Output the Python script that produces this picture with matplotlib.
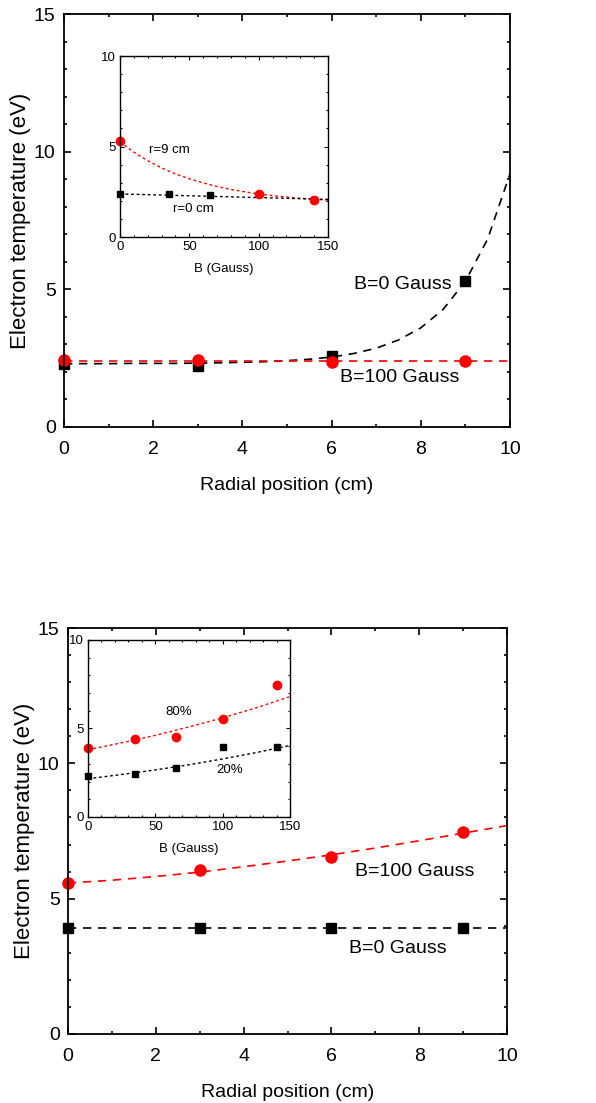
import numpy as np
import matplotlib.pyplot as plt
from matplotlib.ticker import MultipleLocator

plt.rcParams['font.family'] = ['Liberation Sans', 'DejaVu Sans']

# ---- top panel: radial profile ----
r_pos = [0, 3, 6, 9]
te_b0_top = [2.30, 2.21, 2.57, 5.30]
te_b100_top = [2.45, 2.42, 2.36, 2.39]
# fitted curves
fit_r_top = [0, 0.5, 1, 1.5, 2, 2.5, 3, 3.5, 4, 4.5, 5, 5.5, 6, 6.5, 7, 7.5, 8, 8.5, 9, 9.5, 10]
fit_b0_top = [2.30, 2.30, 2.30, 2.31, 2.31, 2.31, 2.32, 2.33, 2.35, 2.37, 2.41, 2.46, 2.54,
              2.67, 2.86, 3.16, 3.60, 4.27, 5.29, 6.83, 9.20]
fit_b100_top = 2.39

# top inset: Te vs B
b_r9 = [0, 100, 140]
te_r9 = [5.28, 2.37, 2.06]
b_r0 = [0, 35, 65, 140]
te_r0 = [2.35, 2.35, 2.32, 2.02]
fit_b = [0, 10, 20, 30, 40, 50, 60, 70, 80, 90, 100, 110, 120, 130, 140, 150]
fit_r9 = [5.25, 4.69, 4.22, 3.82, 3.49, 3.22, 2.99, 2.79, 2.63, 2.50, 2.38, 2.29, 2.21, 2.14, 2.09, 2.04]
fit_r0_b = [0, 150]
fit_r0 = [2.38, 2.08]

# ---- bottom panel ----
te_b0_bot = [3.91, 3.91, 3.91, 3.91]
te_b100_bot = [5.57, 6.06, 6.53, 7.46]
fit_r_bot = [0, 1, 2, 3, 4, 5, 6, 7, 8, 9, 10]
fit_b100_bot = [5.58, 5.68, 5.82, 5.98, 6.18, 6.39, 6.62, 6.87, 7.14, 7.42, 7.70]
fit_b0_bot = 3.91

# bottom inset
b_pts = [0, 35, 65, 100, 140]
te_80 = [3.89, 4.41, 4.53, 5.55, 7.48]
te_20 = [2.33, 2.43, 2.78, 3.93, 3.95]
fit_b2 = [0, 25, 50, 75, 100, 125, 150]
fit_80 = [3.80, 4.19, 4.61, 5.09, 5.60, 6.17, 6.80]
fit_20 = [2.16, 2.40, 2.66, 2.95, 3.28, 3.64, 4.04]

RED = '#ff0000'


def style_main(ax):
    ax.set_xlim(0, 10)
    ax.set_ylim(0, 15)
    ax.xaxis.set_major_locator(MultipleLocator(2))
    ax.xaxis.set_minor_locator(MultipleLocator(1))
    ax.yaxis.set_major_locator(MultipleLocator(5))
    ax.yaxis.set_minor_locator(MultipleLocator(1))
    ax.tick_params(which='both', direction='in', top=True, right=True, width=1.2)
    ax.tick_params(which='major', length=5, labelsize=14, pad=6)
    ax.tick_params(axis='x', which='major', pad=10)
    ax.tick_params(which='minor', length=2.5)
    for s in ax.spines.values():
        s.set_linewidth(1.3)
    ax.set_xlabel('Radial position (cm)', fontsize=14, labelpad=14)
    ax.set_ylabel('Electron temperature (eV)', fontsize=16, labelpad=2)


def style_inset(ax):
    ax.set_xlim(0, 150)
    ax.set_ylim(0, 10)
    ax.xaxis.set_major_locator(MultipleLocator(50))
    ax.xaxis.set_minor_locator(MultipleLocator(10))
    ax.yaxis.set_major_locator(MultipleLocator(5))
    ax.yaxis.set_minor_locator(MultipleLocator(1))
    ax.tick_params(which='both', direction='in', top=True, right=True, width=0.8)
    ax.tick_params(which='major', length=3, labelsize=9.5, pad=3)
    ax.tick_params(which='minor', length=1.5)
    for s in ax.spines.values():
        s.set_linewidth(1.0)


fig = plt.figure(figsize=(5.96, 11.03), dpi=100)

# top main
ax1 = fig.add_axes([0.1074, 0.6129, 0.7483, 0.3744])
ax1.plot(fit_r_top, fit_b0_top, color='black', lw=1.2, dashes=(5, 4))
ax1.axhline(fit_b100_top, color=RED, lw=1.2, dashes=(5, 4))
ax1.plot(r_pos, te_b0_top, 's', color='black', ms=7.5, clip_on=False)
ax1.plot(r_pos, te_b100_top, 'o', color=RED, ms=8, clip_on=False)
ax1.text(6.50, 5.16, 'B=0 Gauss', fontsize=14, va='center')
ax1.text(6.19, 1.78, 'B=100 Gauss', fontsize=14, va='center')
style_main(ax1)

# top inset
ins1 = fig.add_axes([0.2013, 0.7851, 0.349, 0.1641])
ins1.plot(fit_b, fit_r9, color=RED, lw=1.0, dashes=(2, 2))
ins1.plot(fit_r0_b, fit_r0, color='black', lw=1.0, dashes=(2, 2))
ins1.plot(b_r0, te_r0, 's', color='black', ms=5, clip_on=False)
ins1.plot(b_r9, te_r9, 'o', color=RED, ms=6, clip_on=False)
ins1.text(21, 4.8, 'r=9 cm', fontsize=9.5, va='center')
ins1.text(38, 1.55, 'r=0 cm', fontsize=9.5, va='center')
ins1.set_xlabel('B (Gauss)', fontsize=9.5, labelpad=7)
style_inset(ins1)

# bottom main
ax2 = fig.add_axes([0.1141, 0.0626, 0.7366, 0.368])
ax2.plot(fit_r_bot, fit_b100_bot, color=RED, lw=1.2, dashes=(5, 4))
ax2.axhline(fit_b0_bot, color='black', lw=1.2, dashes=(5, 4))
ax2.plot(r_pos, te_b0_bot, 's', color='black', ms=7.5, clip_on=False)
ax2.plot(r_pos, te_b100_bot, 'o', color=RED, ms=8, clip_on=False)
ax2.text(6.54, 6.02, 'B=100 Gauss', fontsize=14, va='center')
ax2.text(6.40, 3.14, 'B=0 Gauss', fontsize=14, va='center')
style_main(ax2)

# bottom inset
ins2 = fig.add_axes([0.1477, 0.2593, 0.3389, 0.1605])
ins2.plot(fit_b2, fit_80, color=RED, lw=1.0, dashes=(2, 2))
ins2.plot(fit_b2, fit_20, color='black', lw=1.0, dashes=(2, 2))
ins2.plot(b_pts, te_20, 's', color='black', ms=5, clip_on=False)
ins2.plot(b_pts, te_80, 'o', color=RED, ms=6, clip_on=False)
ins2.text(57.5, 5.94, '80%', fontsize=9.5, va='center')
ins2.text(95, 2.65, '20%', fontsize=9.5, va='center')
ins2.set_xlabel('B (Gauss)', fontsize=9.5, labelpad=7)
style_inset(ins2)

fig.savefig('out.png', dpi=100)
